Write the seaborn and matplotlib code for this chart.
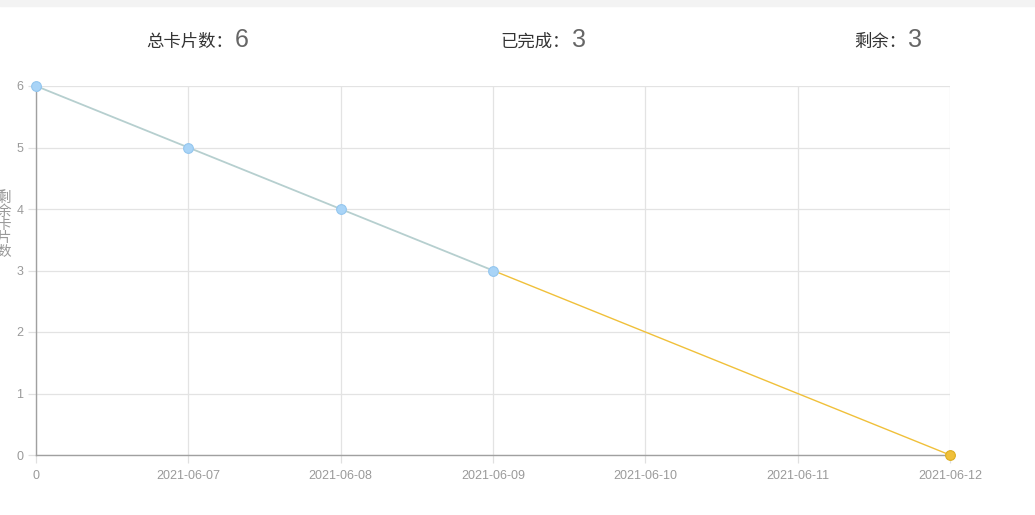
import pandas as pd
import seaborn as sns
import matplotlib.pyplot as plt

# data
x_labels = ["0", "2021-06-07", "2021-06-08", "2021-06-09", "2021-06-10", "2021-06-11", "2021-06-12"]
done_idx = [0, 1, 2, 3]
done_left = [6, 5, 4, 3]
plan_idx = [3, 6]
plan_left = [3, 0]
header_labels = ["总卡片数：", "已完成：", "剩余："]
header_values = ["6", "3", "3"]
y_label = "剩余卡片数"

sns.set_style("white")
plt.rcParams["font.family"] = ["Noto Sans CJK SC", "DejaVu Sans"]

fig = plt.figure(figsize=(10.35, 5.15), dpi=100)
ax = fig.add_axes([36 / 1035, 60 / 515, 914 / 1035, 369 / 515])

done_df = pd.DataFrame({"x": done_idx, "left": done_left})
plan_df = pd.DataFrame({"x": plan_idx, "left": plan_left})

sns.lineplot(data=plan_df, x="x", y="left", ax=ax, color="#f0c03a", linewidth=1.0, zorder=3)
sns.lineplot(data=done_df, x="x", y="left", ax=ax, color="#b6cfcf", linewidth=1.3, zorder=4,
             marker="o", markersize=7, markerfacecolor="#a9d4f7", markeredgecolor="#94c6ee",
             markeredgewidth=0.8)
ax.plot(plan_idx[-1], plan_left[-1], "o", markersize=7, color="#f0c03a",
        markeredgecolor="#dcae22", markeredgewidth=0.8, zorder=5, clip_on=False)
# redraw first point above the axis
ax.plot(done_idx[0], done_left[0], "o", markersize=7, color="#a9d4f7",
        markeredgecolor="#94c6ee", markeredgewidth=0.8, zorder=6, clip_on=False)

ax.set_xlim(0, len(x_labels) - 1)
ax.set_ylim(0, 6)
ax.set_xticks(range(len(x_labels)))
ax.set_xticklabels(x_labels)
ax.set_yticks(range(0, 7))
ax.set_xlabel("")
ax.set_ylabel("")
ax.grid(True, color="#e3e3e3", linewidth=0.9)
ax.set_axisbelow(True)

for side in ["top", "right"]:
    ax.spines[side].set_visible(False)
for side in ["left", "bottom"]:
    ax.spines[side].set_color("#a0a0a0")
    ax.spines[side].set_linewidth(1.0)

ax.tick_params(axis="both", colors="#e0e0e0", length=6, width=0.9,
               labelcolor="#9a9a9a", labelsize=9, direction="out", pad=3,
               left=True, bottom=True)
ax.tick_params(axis="x", pad=5)
for lab in ax.get_xticklabels() + ax.get_yticklabels():
    lab.set_family(["Liberation Sans", "DejaVu Sans"])

# stacked vertical y label, partly cut at the left edge
fig.text(4 / 1035, 1 - 225 / 515, "\n".join(y_label), ha="center", va="center",
         fontsize=10.5, color="#9a9a9a", linespacing=0.95)

# header row
label_right = [233, 570, 906]
for rx, lab, val in zip(label_right, header_labels, header_values):
    fig.text(rx / 1035, 1 - 42 / 515, lab, ha="right", va="center",
             fontsize=12.5, color="#333333")
    fig.text((rx + 2) / 1035, 1 - 40 / 515, val, ha="left", va="center",
             fontsize=18, color="#666666", family=["Liberation Sans", "DejaVu Sans"])

# thin gray band on top
fig.patches.append(plt.Rectangle((0, 1 - 6 / 515), 1, 6 / 515, transform=fig.transFigure,
                                 color="#f3f3f3", zorder=0))

fig.savefig("out.png", dpi=100)
